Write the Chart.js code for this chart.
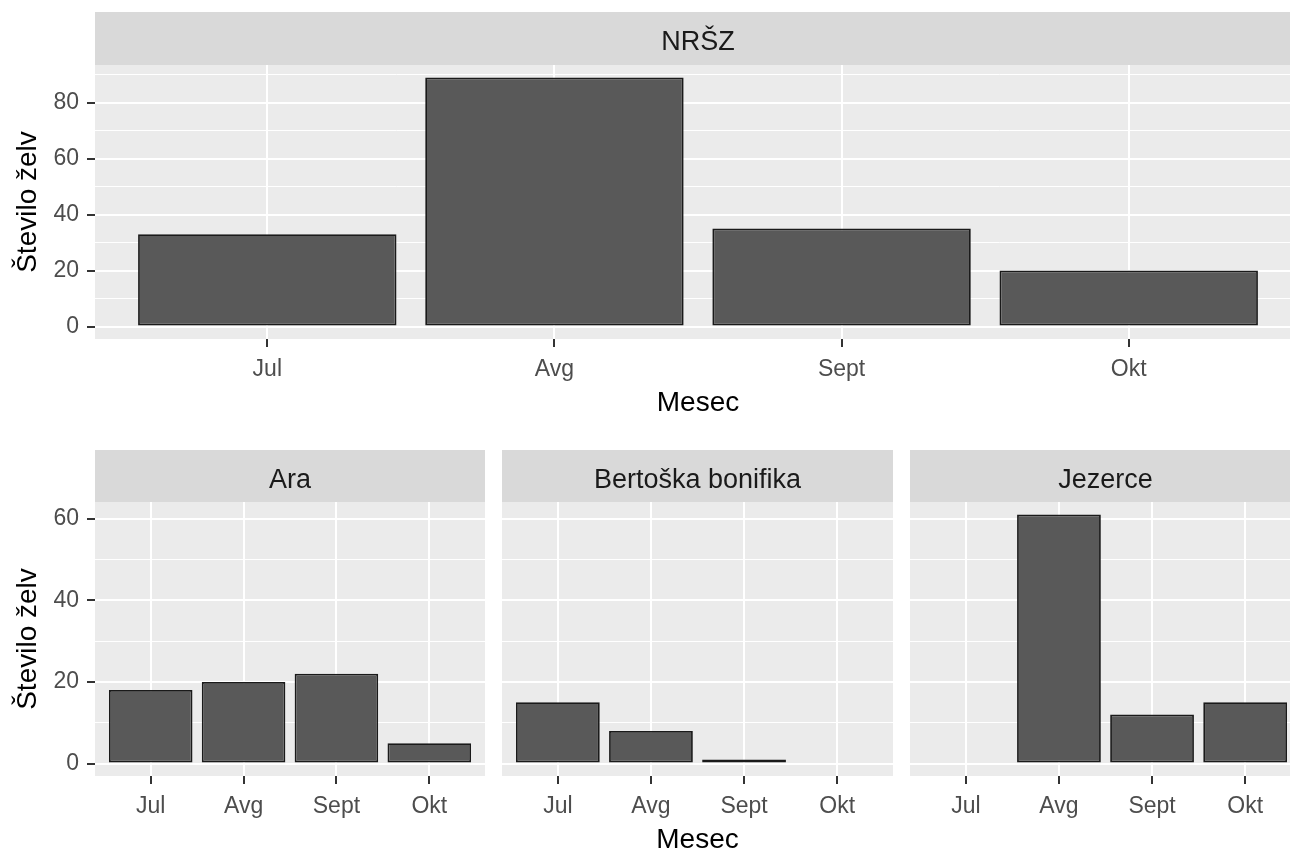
<!DOCTYPE html>
<html>
<head>
<meta charset="utf-8">
<script src="https://cdn.jsdelivr.net/npm/chart.js@4/dist/chart.umd.min.js"></script>
<style>
  html, body { margin: 0; padding: 0; background: #ffffff; overflow: hidden; width: 1290px; height: 850px; }
  canvas { position: absolute; display: block; }
</style>
</head>
<body>
<canvas id="c0" width="1301" height="430" style="left:0px;top:0px"></canvas>
<canvas id="c1" width="485" height="440" style="left:0px;top:430px"></canvas>
<canvas id="c2" width="391" height="440" style="left:502px;top:430px"></canvas>
<canvas id="c3" width="391" height="440" style="left:910px;top:430px"></canvas>
<script>
// ---- data ----
const months = ['Jul', 'Avg', 'Sept', 'Okt'];
const panelTitles = ['NRŠZ', 'Ara', 'Bertoška bonifika', 'Jezerce'];
const nrszCounts = [33, 89, 35, 20];
const araCounts = [18, 20, 22, 5];
const bertoskaCounts = [15, 8, 1, null];
const jezerceCounts = [null, 61, 12, 15];
const yTickStep = 10;
const yLabelStep = 20;
const xAxisTitle = 'Mesec';
const yAxisTitle = 'Število želv';

// ---- style ----
const FAMILY = '"Liberation Sans", Arial, Helvetica, sans-serif';
const facetPlugin = {
  id: 'facet',
  beforeDraw(chart, args, opts) {
    const { ctx, chartArea: a } = chart;
    ctx.save();
    ctx.fillStyle = '#EBEBEB';
    ctx.fillRect(a.left, a.top, a.right - a.left, a.bottom - a.top);
    ctx.fillStyle = '#D9D9D9';
    ctx.fillRect(a.left, a.top - opts.stripH, a.right - a.left, opts.stripH);
    ctx.fillStyle = '#1A1A1A';
    ctx.font = '27px ' + FAMILY;
    ctx.textAlign = 'center';
    ctx.textBaseline = 'alphabetic';
    ctx.fillText(opts.text, (a.left + a.right) / 2, a.top - opts.stripH + opts.baseline);
    ctx.restore();
  }
};

function makePanel(id, title, values, dataMax, cfg) {
  const lo = -0.05 * dataMax;
  const hi = dataMax * 1.05;
  const isMajor = v => Math.abs(v % yLabelStep) < 1e-9;
  return new Chart(document.getElementById(id), {
    type: 'bar',
    data: {
      datasets: [{
        data: months.map((m, i) => ({ x: i, y: values[i] })),
        backgroundColor: '#595959',
        borderColor: '#1A1A1A',
        borderWidth: 1.8,
        borderSkipped: false,
        inflateAmount: 0,
        barPercentage: 0.9,
        categoryPercentage: 1.0
      }]
    },
    options: {
      responsive: false,
      animation: false,
      layout: { padding: { top: cfg.padTop, left: 0, right: 0, bottom: 0 } },
      plugins: {
        legend: { display: false },
        tooltip: { enabled: false },
        facet: { text: title, stripH: cfg.stripH, baseline: 38 }
      },
      scales: {
        x: {
          type: 'linear',
          min: -0.6,
          max: months.length - 1 + 0.6,
          offset: false,
          ticks: {
            stepSize: 1, includeBounds: false, autoSkip: false, maxRotation: 0,
            color: '#4D4D4D', font: { size: 23, family: FAMILY }, padding: 9,
            callback: v => (months[v] !== undefined ? months[v] : '')
          },
          grid: { offset: false, color: '#FFFFFF', lineWidth: 2, tickLength: 8, tickColor: '#333333', tickWidth: 2 },
          border: { display: false },
          title: {
            display: cfg.showXTitle, text: xAxisTitle, color: '#000000',
            font: { size: 28, family: FAMILY }, padding: { top: 0, bottom: cfg.xTitlePad }
          },
          afterFit: s => { s.height = cfg.xH; }
        },
        y: {
          type: 'linear',
          min: lo,
          max: hi,
          ticks: {
            display: cfg.showY, stepSize: yTickStep, includeBounds: false, autoSkip: false,
            color: '#4D4D4D', font: { size: 23, family: FAMILY }, padding: 8,
            callback: v => (isMajor(v) ? String(v) : '')
          },
          grid: {
            color: '#FFFFFF',
            lineWidth: c => (isMajor(c.tick.value) ? 2 : 1),
            drawTicks: cfg.showY, tickLength: 8, tickWidth: 2,
            tickColor: c => (isMajor(c.tick.value) ? '#333333' : 'rgba(0,0,0,0)')
          },
          border: { display: false },
          title: {
            display: cfg.showY, text: yAxisTitle, color: '#000000',
            font: { size: 28, family: FAMILY }, padding: { top: 11, bottom: 0 }
          },
          afterFit: s => { s.width = cfg.showY ? 95 : 0; }
        }
      }
    },
    plugins: [facetPlugin]
  });
}

const topMax = Math.max(...nrszCounts);
const bottomMax = Math.max(...araCounts, ...bertoskaCounts.filter(v => v !== null), ...jezerceCounts.filter(v => v !== null));

makePanel('c0', panelTitles[0], nrszCounts, topMax,
  { padTop: 65, stripH: 53, xH: 91, showY: true, showXTitle: true, xTitlePad: 10 });
makePanel('c1', panelTitles[1], araCounts, bottomMax,
  { padTop: 72, stripH: 52, xH: 94, showY: true, showXTitle: false, xTitlePad: 13 });
makePanel('c2', panelTitles[2], bertoskaCounts, bottomMax,
  { padTop: 72, stripH: 52, xH: 94, showY: false, showXTitle: true, xTitlePad: 13 });
makePanel('c3', panelTitles[3], jezerceCounts, bottomMax,
  { padTop: 72, stripH: 52, xH: 94, showY: false, showXTitle: false, xTitlePad: 13 });
</script>
</body>
</html>
